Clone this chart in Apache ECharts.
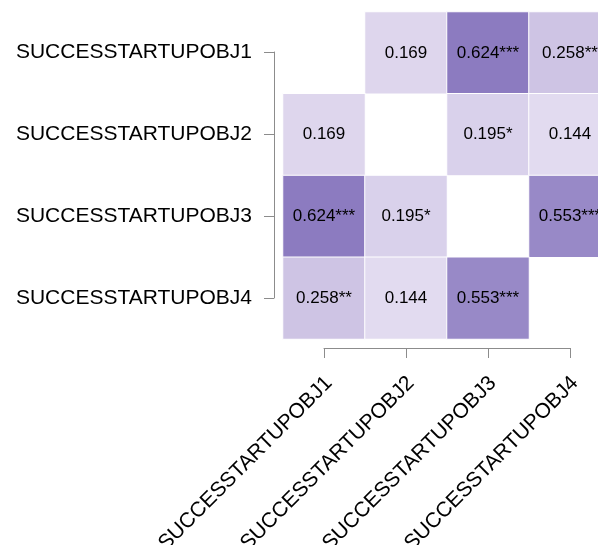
<!DOCTYPE html>
<html>
<head>
<meta charset="utf-8">
<script src="https://cdn.jsdelivr.net/npm/echarts@6/dist/echarts.min.js"></script>
<style>html,body{margin:0;padding:0;background:#fff;}#c{width:598px;height:545px;}</style>
</head>
<body>
<div id="c"></div>
<script>
var categories = ['SUCCESSTARTUPOBJ1', 'SUCCESSTARTUPOBJ2', 'SUCCESSTARTUPOBJ3', 'SUCCESSTARTUPOBJ4'];
var corrValues = [
  [null, 0.169, 0.624, 0.258],
  [0.169, null, 0.195, 0.144],
  [0.624, 0.195, null, 0.553],
  [0.258, 0.144, 0.553, null]
];
var stars = [
  ['', '', '***', '**'],
  ['', '', '*', ''],
  ['***', '*', '', '***'],
  ['**', '', '***', '']
];

var FONT = "'Liberation Sans', Arial, Helvetica, sans-serif";
var data = [];
for (var r = 0; r < categories.length; r++) {
  for (var c = 0; c < categories.length; c++) {
    if (corrValues[r][c] !== null) {
      data.push([c, r, corrValues[r][c], stars[r][c]]);
    }
  }
}

var chart = echarts.init(document.getElementById('c'), null, {renderer: 'canvas'});
var axisLineStyle = {color: '#8c8c8c', width: 1};
chart.setOption({
  animation: false,
  backgroundColor: '#ffffff',
  grid: [
    {left: 283, top: 12, width: 328, height: 327, containLabel: false, outerBoundsMode: 'none'},
    {left: 324, top: 52, width: 246, height: 246, containLabel: false, outerBoundsMode: 'none'},
    {left: 329, top: 52, width: 246, height: 246, containLabel: false, outerBoundsMode: 'none'}
  ],
  xAxis: [
    {gridIndex: 0, type: 'category', data: categories, show: false},
    {gridIndex: 1, type: 'category', data: categories, boundaryGap: false, position: 'bottom', offset: 50,
      axisLine: {show: true, lineStyle: axisLineStyle},
      axisTick: {show: true, length: 10, interval: 0, lineStyle: axisLineStyle},
      axisLabel: {show: false, interval: 0}, splitLine: {show: false}},
    {gridIndex: 2, type: 'category', data: categories, boundaryGap: false, position: 'bottom', offset: 50,
      axisLine: {show: false}, axisTick: {show: false}, splitLine: {show: false},
      axisLabel: {show: true, rotate: 45, margin: 32, interval: 0, color: '#000', fontSize: 21, fontFamily: FONT}}
  ],
  yAxis: [
    {gridIndex: 0, type: 'category', data: categories, inverse: true, show: false},
    {gridIndex: 1, type: 'category', data: categories, boundaryGap: false, inverse: true, position: 'left', offset: 50,
      axisLine: {show: true, lineStyle: axisLineStyle},
      axisTick: {show: true, length: 10, interval: 0, lineStyle: axisLineStyle},
      splitLine: {show: false},
      axisLabel: {show: true, margin: 22, interval: 0, color: '#000', fontSize: 21, fontFamily: FONT}},
    {gridIndex: 2, type: 'category', data: categories, inverse: true, show: false}
  ],
  visualMap: {
    show: false, type: 'continuous', min: 0, max: 1, dimension: 2, seriesIndex: 0,
    inRange: {color: ['#fcf8fe', '#48309a']}
  },
  series: [{
    type: 'heatmap',
    xAxisIndex: 0, yAxisIndex: 0,
    data: data,
    itemStyle: {borderColor: '#ffffff', borderWidth: 1},
    emphasis: {disabled: true},
    label: {
      show: true, color: '#000', fontSize: 17, fontFamily: FONT,
      formatter: function (p) { return p.value[2].toFixed(3) + p.value[3]; }
    }
  }]
});
</script>
</body>
</html>
